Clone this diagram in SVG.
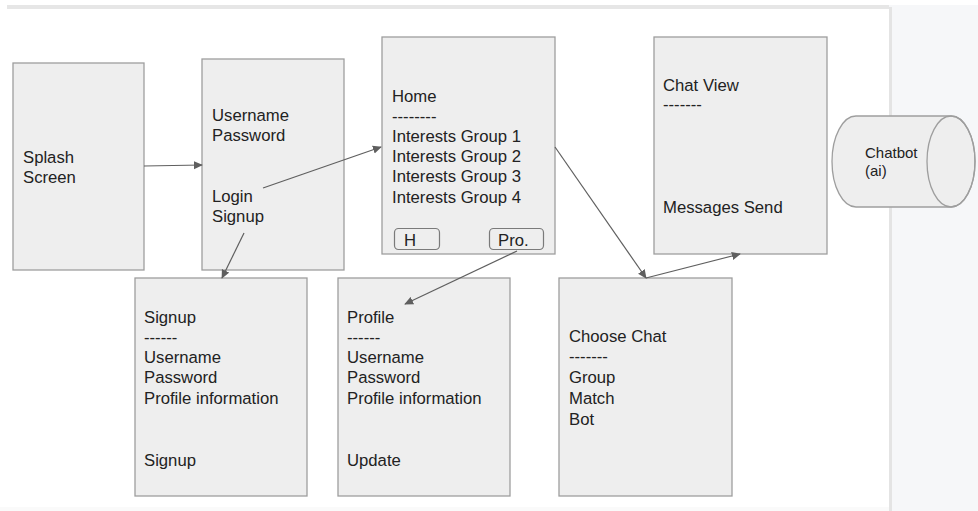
<svg xmlns="http://www.w3.org/2000/svg" width="978" height="511" viewBox="0 0 978 511">
  <defs>
    <style>
      .box { fill: #eeeeee; stroke: #9e9e9e; stroke-width: 1.3; }
      .btn { fill: #eeeeee; stroke: #7a7a7a; stroke-width: 1.2; }
      .t { font-family: "Liberation Sans", Arial, sans-serif; font-size: 16.7px; fill: #222222; }
      .ts { font-family: "Liberation Sans", Arial, sans-serif; font-size: 15px; fill: #222222; }
      .edge { fill: none; stroke: #5f5f5f; stroke-width: 1.2; }
    </style>
    <marker id="arrow" viewBox="0 0 10 10" refX="9" refY="5" markerWidth="9" markerHeight="9" markerUnits="userSpaceOnUse" orient="auto">
      <path d="M0,0.5 L10,5 L0,9.5 Z" fill="#5f5f5f"/>
    </marker>
  </defs>

  <!-- workspace background -->
  <rect x="0" y="0" width="978" height="511" fill="#ffffff"/>
  <rect x="889" y="5" width="89" height="506" fill="#f6f7f9"/>
  <rect x="7" y="5" width="882" height="4" fill="#e6e6e6"/>
  <rect x="889" y="7" width="3" height="504" fill="#e4e4e4"/>
  <rect x="0" y="507" width="889" height="4" fill="#fafafa"/>

  <!-- splash screen -->
  <g id="splash">
    <rect class="box" x="13" y="63" width="131" height="207"/>
    <text class="t" x="23" y="163">Splash</text>
    <text class="t" x="23" y="183">Screen</text>
  </g>

  <!-- login screen -->
  <g id="login">
    <rect class="box" x="202" y="59" width="142" height="211"/>
    <text class="t" x="212" y="121">Username</text>
    <text class="t" x="212" y="141">Password</text>
    <text class="t" x="212" y="202">Login</text>
    <text class="t" x="212" y="222">Signup</text>
  </g>

  <!-- home screen -->
  <g id="home">
    <rect class="box" x="382" y="37" width="173" height="217"/>
    <text class="t" x="392" y="102">Home</text>
    <text class="t" x="392" y="122">--------</text>
    <text class="t" x="392" y="142">Interests Group 1</text>
    <text class="t" x="392" y="162">Interests Group 2</text>
    <text class="t" x="392" y="182">Interests Group 3</text>
    <text class="t" x="392" y="203">Interests Group 4</text>
    <rect class="btn" x="394.5" y="228.5" width="45" height="21" rx="4"/>
    <text class="t" x="404" y="246">H</text>
    <rect class="btn" x="489.5" y="228.5" width="54" height="21" rx="4"/>
    <text class="t" x="498" y="246">Pro.</text>
  </g>

  <!-- chat view -->
  <g id="chat-view">
    <rect class="box" x="654" y="37" width="173" height="217"/>
    <text class="t" x="663" y="91">Chat View</text>
    <text class="t" x="663" y="110">-------</text>
    <text class="t" x="663" y="213">Messages Send</text>
  </g>

  <!-- chatbot store -->
  <g id="chatbot">
    <path class="box" d="M856,116 L951,116 A24,45.5 0 0 1 951,207 L856,207 A24,45.5 0 0 1 856,116 Z"/>
    <ellipse cx="951" cy="161.5" rx="24" ry="45.5" fill="none" stroke="#9e9e9e" stroke-width="1.3"/>
    <text class="ts" x="865" y="158">Chatbot</text>
    <text class="ts" x="865" y="176">(ai)</text>
  </g>

  <!-- signup screen -->
  <g id="signup">
    <rect class="box" x="135" y="278" width="172" height="218"/>
    <text class="t" x="144" y="323">Signup</text>
    <text class="t" x="144" y="343">------</text>
    <text class="t" x="144" y="363">Username</text>
    <text class="t" x="144" y="383">Password</text>
    <text class="t" x="144" y="404">Profile information</text>
    <text class="t" x="144" y="466">Signup</text>
  </g>

  <!-- profile screen -->
  <g id="profile">
    <rect class="box" x="338" y="278" width="172" height="218"/>
    <text class="t" x="347" y="323">Profile</text>
    <text class="t" x="347" y="343">------</text>
    <text class="t" x="347" y="363">Username</text>
    <text class="t" x="347" y="383">Password</text>
    <text class="t" x="347" y="404">Profile information</text>
    <text class="t" x="347" y="466">Update</text>
  </g>

  <!-- choose chat screen -->
  <g id="choose-chat">
    <rect class="box" x="559" y="278" width="173" height="218"/>
    <text class="t" x="569" y="342">Choose Chat</text>
    <text class="t" x="569" y="362">-------</text>
    <text class="t" x="569" y="383">Group</text>
    <text class="t" x="569" y="404">Match</text>
    <text class="t" x="569" y="425">Bot</text>
  </g>

  <!-- connectors, drawn over the screens -->
  <g id="connectors">
    <line class="edge" x1="144" y1="166" x2="202" y2="165" marker-end="url(#arrow)"/>
    <line class="edge" x1="263" y1="188" x2="381" y2="147" marker-end="url(#arrow)"/>
    <line class="edge" x1="244" y1="233" x2="222" y2="278" marker-end="url(#arrow)"/>
    <line class="edge" x1="517" y1="251" x2="405" y2="304" marker-end="url(#arrow)"/>
    <line class="edge" x1="555" y1="147" x2="646" y2="278" marker-end="url(#arrow)"/>
    <line class="edge" x1="646" y1="278" x2="740" y2="254" marker-end="url(#arrow)"/>
  </g>
</svg>
